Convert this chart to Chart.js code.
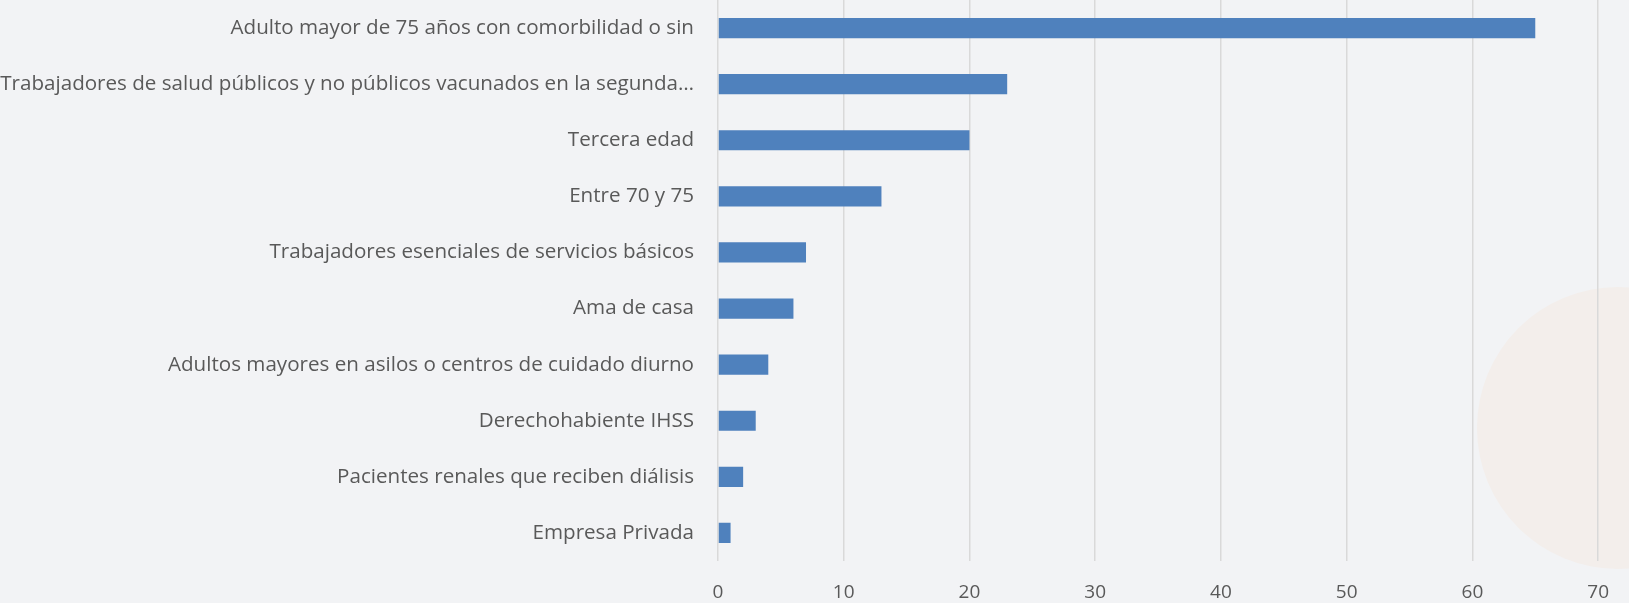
<!DOCTYPE html>
<html>
<head>
<meta charset="utf-8">
<script src="https://cdn.jsdelivr.net/npm/chart.js@4.4.1/dist/chart.umd.min.js"></script>
<style>
    html, body { margin: 0; padding: 0; background: #f2f3f5; }
    #wrap { position: relative; width: 1629px; height: 603px; overflow: hidden; }
    #blob {
        position: absolute; left: 1477px; top: 287px;
        width: 282px; height: 282px; border-radius: 50%;
        background: #f3eeeb;
    }
    #groupChart { position: absolute; left: 0; top: 0; }
</style>
</head>
<body>
<div id="wrap">
    <div id="blob"></div>
    <canvas id="groupChart" width="1629" height="603"></canvas>
</div>
<script>
const categories = [
    "Adulto mayor de 75 años con comorbilidad o sin",
    "Trabajadores de salud públicos y no públicos vacunados en la segunda…",
    "Tercera edad",
    "Entre 70 y 75",
    "Trabajadores esenciales de servicios básicos",
    "Ama de casa",
    "Adultos mayores en asilos o centros de cuidado diurno",
    "Derechohabiente IHSS",
    "Pacientes renales que reciben diálisis",
    "Empresa Privada"
];
const counts = [65, 23, 20, 13, 7, 6, 4, 3, 2, 1];
const xTicks = [0, 10, 20, 30, 40, 50, 60, 70];

const labelColor = "#595959";

const ctx = document.getElementById("groupChart").getContext("2d");

new Chart(ctx, {
    type: "bar",
    data: {
        labels: categories,
        datasets: [{
            data: counts,
            backgroundColor: "#4f81bd",
            barPercentage: 0.36,
            categoryPercentage: 1
        }]
    },
    options: {
        indexAxis: "y",
        responsive: false,
        animation: false,
        layout: { padding: { left: 0, right: 27, top: 0, bottom: 0 } },
        plugins: { legend: { display: false }, tooltip: { enabled: false } },
        scales: {
            x: {
                min: 0,
                max: 70,
                afterBuildTicks: (scale) => {
                    scale.ticks = xTicks.map(v => ({ value: v }));
                },
                afterFit: (scale) => {
                    scale.height = 42;
                    scale.paddingTop = 0;
                    scale.paddingBottom = 0;
                },
                grid: { color: "#d9d9d9", lineWidth: 1.5, drawTicks: false },
                border: { display: false },
                ticks: { color: labelColor, font: { family: "'Open Sans', sans-serif", size: 19 }, padding: 20 }
            },
            y: {
                afterFit: (scale) => {
                    // the chart area should start right at the top, labels sit 24px from the axis
                    scale.width = 718;
                    scale.paddingTop = 0;
                    scale.paddingBottom = 0;
                },
                grid: { display: false, drawTicks: false },
                border: { display: false },
                ticks: { color: labelColor, font: { family: "'Open Sans', sans-serif", size: 20.6 }, padding: 24, autoSkip: false }
            }
        }
    }
});
</script>
</body>
</html>
